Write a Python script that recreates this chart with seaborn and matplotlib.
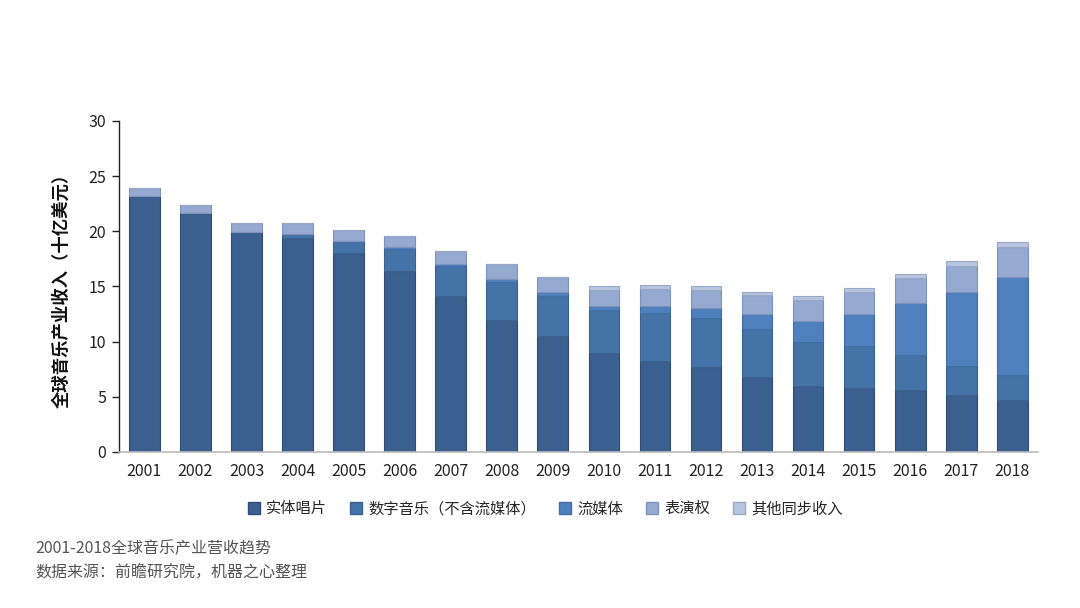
import matplotlib
matplotlib.use("Agg")
import matplotlib.pyplot as plt
import seaborn as sns
import pandas as pd
import numpy as np
from matplotlib.patches import Patch

years = [str(y) for y in range(2001, 2019)]
physical = [23.24, 21.64, 19.95, 19.40, 18.07, 16.38, 14.17, 11.94, 10.49, 8.95, 8.28, 7.68, 6.77, 5.98, 5.77, 5.62, 5.17, 4.71]
digital = [0.0, 0.0, 0.0, 0.33, 1.03, 2.02, 2.69, 3.45, 3.68, 3.92, 4.29, 4.44, 4.35, 3.97, 3.81, 3.17, 2.60, 2.27]
streaming = [0.0, 0.0, 0.0, 0.0, 0.0, 0.22, 0.18, 0.27, 0.37, 0.37, 0.67, 0.96, 1.36, 1.93, 2.90, 4.69, 6.71, 8.89]
performance = [0.66, 0.73, 0.78, 1.00, 1.06, 0.96, 1.18, 1.36, 1.33, 1.45, 1.54, 1.58, 1.72, 1.90, 2.03, 2.30, 2.38, 2.74]
sync = [0.0, 0.0, 0.0, 0.0, 0.0, 0.0, 0.0, 0.0, 0.0, 0.33, 0.33, 0.36, 0.34, 0.34, 0.33, 0.39, 0.46, 0.40]

series_names = ["实体唱片", "数字音乐（不含流媒体）", "流媒体", "表演权", "其他同步收入"]
series_values = [physical, digital, streaming, performance, sync]
colors = ["#3b5f8e", "#4673a7", "#4f80bd", "#95a9d1", "#b8c5e1"]
edges = ["#2f4d75", "#3a6190", "#416ea6", "#7f92ba", "#9aa8c6"]

y_ticks = [0, 5, 10, 15, 20, 25, 30]

sns.set_theme(style="white")
plt.rcParams['font.family'] = ['Noto Sans CJK SC', 'DejaVu Sans']

fig = plt.figure(figsize=(10.8, 6.08), dpi=100)
ax = fig.add_axes([0.110, 0.2566, 0.851, 0.5444])

bottom = np.zeros(len(years))
for name, vals, c, ec in zip(series_names, series_values, colors, edges):
    df = pd.DataFrame({"year": years, "value": vals})
    sns.barplot(data=df, x="year", y="value", color=c, bottom=bottom.copy(),
                width=0.6, ax=ax, edgecolor=ec, linewidth=0.8, saturation=1,
                errorbar=None)
    bottom += np.array(vals)

ax.set_xlim(-0.5, len(years) - 0.5)
ax.set_ylim(0, 30)
ax.set_yticks(y_ticks)
ax.set_yticklabels([str(t) for t in y_ticks], fontsize=11.5, color="#222222")
ax.tick_params(axis="x", labelsize=11.5, colors="#222222", length=0, pad=8)
ax.tick_params(axis="y", left=True, length=5, width=1, color="#222222", pad=4)
ax.set_xlabel("")
ax.set_ylabel("全球音乐产业收入（十亿美元）", fontsize=12.5, fontweight="bold", color="#111111", labelpad=13)

for s in ["top", "right"]:
    ax.spines[s].set_visible(False)
ax.spines["left"].set_color("#222222")
ax.spines["left"].set_linewidth(1.0)
ax.spines["bottom"].set_color("#bbbbbb")
ax.spines["bottom"].set_linewidth(1.2)

handles = [Patch(facecolor=c, edgecolor=ec, label=n) for n, c, ec in zip(series_names, colors, edges)]
fig.legend(handles=handles, loc="center", bbox_to_anchor=(0.505, 0.163), ncol=5, frameon=False,
           fontsize=11, handlelength=0.8, handleheight=0.8, handletextpad=0.4, columnspacing=1.5)

fig.text(0.033, 0.097, "2001-2018全球音乐产业营收趋势", fontsize=11.5, color="#555555", va="center")
fig.text(0.033, 0.057, "数据来源：前瞻研究院，机器之心整理", fontsize=11.5, color="#555555", va="center")

fig.savefig("out.png", dpi=100)
